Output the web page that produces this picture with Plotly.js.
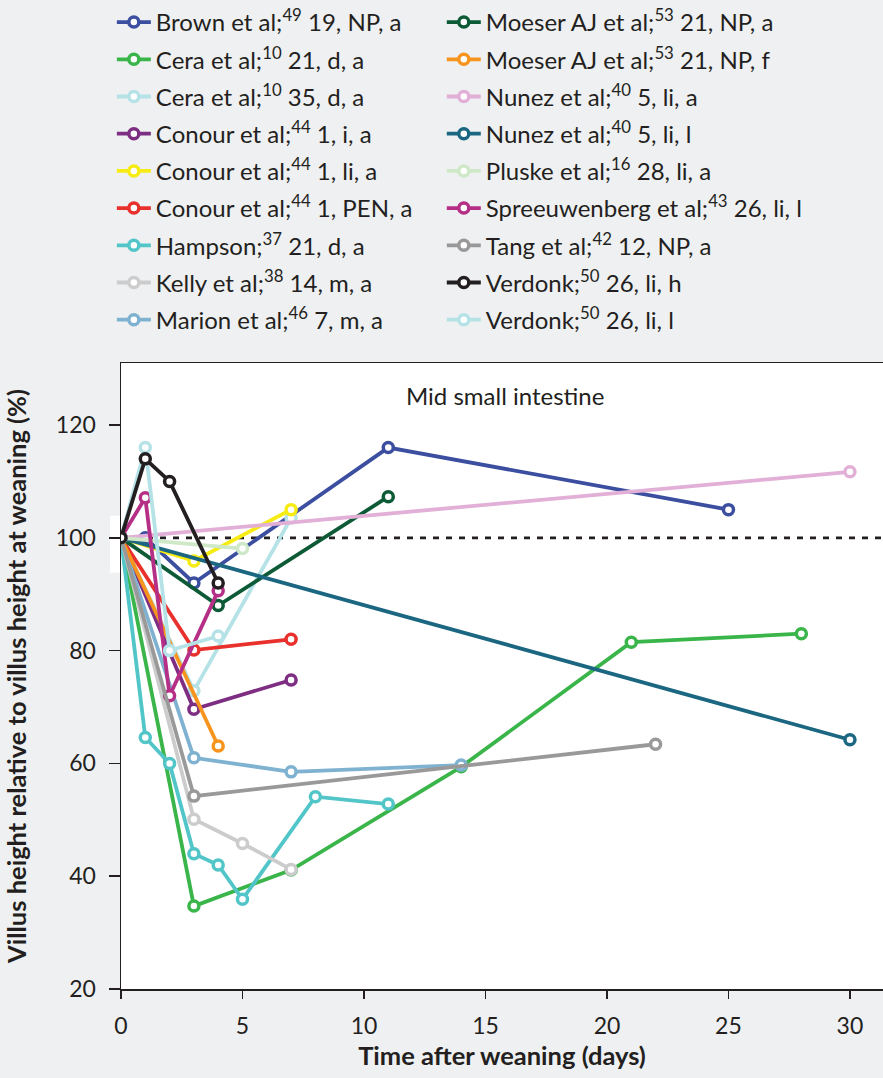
<!DOCTYPE html>
<html>
<head>
<meta charset="utf-8">
<script src="https://cdn.plot.ly/plotly-3.0.1.min.js"></script>
<style>
  html, body { margin: 0; padding: 0; background: #eff0f2; }
  #chart { width: 883px; height: 1078px; }
</style>
</head>
<body>
<div id="chart"></div>
<script>
// ---- Data (days after weaning, villus height % of weaning value) ----
const seriesNames = [
  "Brown et al;<sup>49</sup> 19, NP, a",
  "Cera et al;<sup>10</sup> 21, d, a",
  "Cera et al;<sup>10</sup> 35, d, a",
  "Conour et al;<sup>44</sup> 1, i, a",
  "Conour et al;<sup>44</sup> 1, li, a",
  "Conour et al;<sup>44</sup> 1, PEN, a",
  "Hampson;<sup>37</sup> 21, d, a",
  "Kelly et al;<sup>38</sup> 14, m, a",
  "Marion et al;<sup>46</sup> 7, m, a",
  "Moeser AJ et al;<sup>53</sup> 21, NP, a",
  "Moeser AJ et al;<sup>53</sup> 21, NP, f",
  "Nunez et al;<sup>40</sup> 5, li, a",
  "Nunez et al;<sup>40</sup> 5, li, l",
  "Pluske et al;<sup>16</sup> 28, li, a",
  "Spreeuwenberg et al;<sup>43</sup> 26, li, l",
  "Tang et al;<sup>42</sup> 12, NP, a",
  "Verdonk;<sup>50</sup> 26, li, h",
  "Verdonk;<sup>50</sup> 26, li, l"
];

const brownX = [0, 1, 3, 11, 25];          const brownY = [100, 100, 92, 116, 105];
const cera21X = [0, 3, 7, 14, 21, 28];     const cera21Y = [100, 34.7, 41.1, 59.4, 81.5, 83];
const cera35X = [0, 3, 7];                 const cera35Y = [100, 72.9, 103.5];
const conourIX = [0, 3, 7];                const conourIY = [100, 69.6, 74.8];
const conourLiX = [0, 3, 7];               const conourLiY = [100, 95.9, 105];
const conourPenX = [0, 3, 7];              const conourPenY = [100, 80.1, 82];
const hampsonX = [0, 1, 2, 3, 4, 5, 8, 11];const hampsonY = [100, 64.6, 60, 44, 42, 35.9, 54.1, 52.8];
const kellyX = [0, 3, 5, 7];               const kellyY = [100, 50.1, 45.8, 41.2];
const marionX = [0, 3, 7, 14];             const marionY = [100, 61, 58.5, 59.7];
const moeserAX = [0, 4, 11];               const moeserAY = [100, 88, 107.3];
const moeserFX = [0, 4];                   const moeserFY = [100, 63.1];
const nunezAX = [0, 30];                   const nunezAY = [100, 111.7];
const nunezLX = [0, 30];                   const nunezLY = [100, 64.2];
const pluskeX = [0, 5];                    const pluskeY = [100, 98.1];
const spreeX = [0, 1, 2, 4];               const spreeY = [100, 107.1, 72, 90.6];
const tangX = [0, 3, 22];                  const tangY = [100, 54.2, 63.4];
const verdHX = [0, 1, 2, 4];               const verdHY = [100, 114, 110, 92];
const verdLX = [0, 1, 2, 4];               const verdLY = [100, 116, 80, 82.6];

const xTicks = [0, 5, 10, 15, 20, 25, 30];
const yTicks = [20, 40, 60, 80, 100, 120];

const seriesX = [brownX, cera21X, cera35X, conourIX, conourLiX, conourPenX, hampsonX, kellyX, marionX,
                 moeserAX, moeserFX, nunezAX, nunezLX, pluskeX, spreeX, tangX, verdHX, verdLX];
const seriesY = [brownY, cera21Y, cera35Y, conourIY, conourLiY, conourPenY, hampsonY, kellyY, marionY,
                 moeserAY, moeserFY, nunezAY, nunezLY, pluskeY, spreeY, tangY, verdHY, verdLY];
const colors = ["#3b4ea0", "#39b54a", "#b5e2e6", "#7d2e83", "#f6ec14", "#e8302c", "#52c5c8", "#cccccc", "#7fb2d0",
                "#0d5a37", "#f7941d", "#e2b0d6", "#1b6680", "#cfe8c7", "#b52f86", "#999999", "#231f20", "#b5e2e6"];

const drawOrder = [0,1,2,3,4,5,6,7,8,9,10,11,12,13,14,15,17,16];
const traces = drawOrder.map(function(i) {
  return {
    type: "scatter",
    mode: "lines+markers",
    x: seriesX[i],
    y: seriesY[i],
    name: seriesNames[i],
    legend: i < 9 ? "legend" : "legend2",
    legendgroup: "g" + i,
    legendrank: i + 1,
    line: { color: colors[i], width: 3.8 },
    marker: { symbol: "circle", size: 10, color: "#ffffff", line: { color: colors[i], width: 3.5 } },
    hoverinfo: "x+y+name"
  };
});

const plotLeft = 121, plotW = 762, plotH = 627;
const fontFam = "Lato, 'Open Sans', sans-serif";

const layout = {
  width: 883,
  height: 1078,
  paper_bgcolor: "#eff0f2",
  plot_bgcolor: "#ffffff",
  margin: { l: 121, r: 0, t: 362, b: 89, pad: 0 },
  font: { family: fontFam, color: "#231f20", size: 23 },
  showlegend: true,
  legend: {
    x: -0.012, xanchor: "left", y: 1.58, yanchor: "top",
    bgcolor: "rgba(0,0,0,0)", borderwidth: 0,
    orientation: "v", traceorder: "grouped", tracegroupgap: 3,
    itemwidth: 34,
    font: { size: 24, family: fontFam, color: "#231f20" }
  },
  legend2: {
    x: 0.421, xanchor: "left", y: 1.58, yanchor: "top",
    bgcolor: "rgba(0,0,0,0)", borderwidth: 0,
    orientation: "v", traceorder: "grouped", tracegroupgap: 3,
    itemwidth: 34,
    font: { size: 24, family: fontFam, color: "#231f20" }
  },
  xaxis: {
    range: [0, 31.36],
    tickvals: xTicks,
    ticktext: xTicks.map(String),
    ticks: "outside", ticklen: 8, tickwidth: 1.5, tickcolor: "#231f20",
    ticklabelstandoff: 8,
    showline: true, linecolor: "#231f20", linewidth: 1.5, mirror: true,
    showgrid: false, zeroline: false,
    tickfont: { size: 23 },
    title: { text: "<b>Time after weaning (days)</b>", font: { size: 25.5 }, standoff: 9 }
  },
  yaxis: {
    range: [20, 131],
    tickvals: yTicks,
    ticktext: yTicks.map(String),
    ticks: "outside", ticklen: 11, tickwidth: 1.5, tickcolor: "#231f20",
    ticklabelstandoff: 8,
    showline: true, linecolor: "#231f20", linewidth: 1.5, mirror: true,
    showgrid: false, zeroline: false,
    tickfont: { size: 23 },
    title: { text: "<b>Villus height relative to villus height at weaning (%)</b>", font: { size: 25.5 }, standoff: 22 }
  },
  shapes: [
    { type: "rect", xref: "paper", yref: "paper", x0: -11 / plotW, x1: 0, y0: 0.665, y1: 0.756,
      fillcolor: "#ffffff", line: { width: 0 }, layer: "below" },
    { type: "line", xref: "x", yref: "y", x0: 0, x1: 31.36, y0: 100, y1: 100,
      line: { color: "#231f20", width: 2.8, dash: "6px,7px" }, layer: "below" }
  ],
  annotations: [
    { text: "Mid small intestine", xref: "paper", yref: "paper", x: (505 - plotLeft) / plotW, y: 1 - (395 - 362) / plotH,
      showarrow: false, xanchor: "center", yanchor: "middle", font: { size: 24, color: "#231f20" } }
  ]
};

Plotly.newPlot("chart", traces, layout, { displayModeBar: false, staticPlot: true });
</script>
</body>
</html>
